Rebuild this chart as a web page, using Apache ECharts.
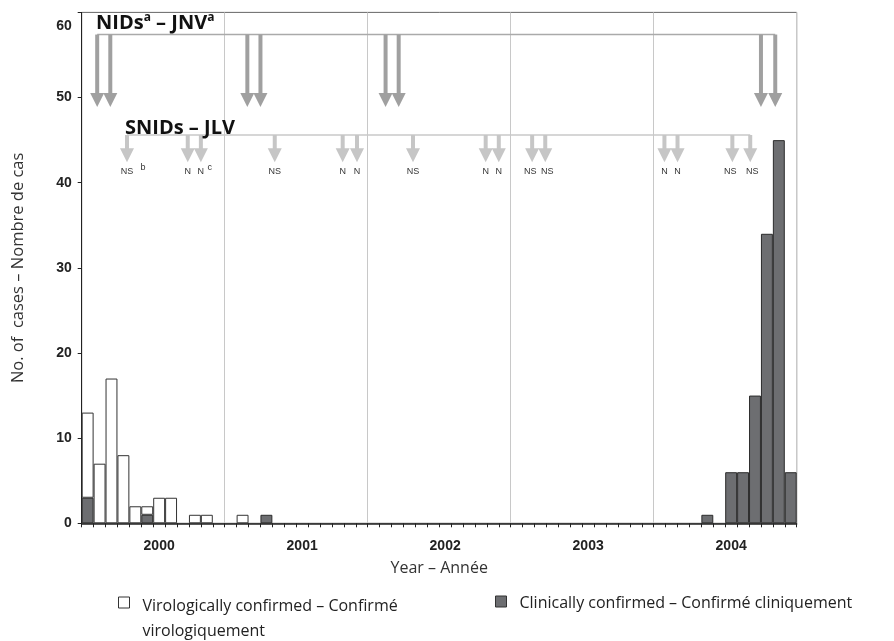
<!DOCTYPE html>
<html><head><meta charset="utf-8">
<script src="https://cdn.jsdelivr.net/npm/echarts@6/dist/echarts.min.js"></script>
<style>html,body{margin:0;padding:0;background:#fff}#c{width:894px;height:641px}</style>
</head><body><div id="c"></div>
<script>
// ---- data ----
const years = ['2000', '2001', '2002', '2003', '2004'];
const monthNames = ['Jan','Feb','Mar','Apr','May','Jun','Jul','Aug','Sep','Oct','Nov','Dec'];
const categories = [];
years.forEach(y => monthNames.forEach(m => categories.push(y + '-' + m)));
const seriesNames = ['Virologically confirmed – Confirmé virologiquement', 'Clinically confirmed – Confirmé cliniquement'];
// clinically confirmed cases per month (Jan 2000 .. Dec 2004)
const clinical = [
  3, null, null, null, null, 1, null, null, null, null, null, null,
  null, null, null, 1, null, null, null, null, null, null, null, null,
  null, null, null, null, null, null, null, null, null, null, null, null,
  null, null, null, null, null, null, null, null, null, null, null, null,
  null, null, null, null, 1, null, 6, 6, 15, 34, 45, 6
];
// virologically confirmed cases per month (stacked on clinical)
const virological = [
  10, 7, 17, 8, 2, 1, 3, 3, null, 1, 1, null,
  null, 1, null, null, null, null, null, null, null, null, null, null,
  null, null, null, null, null, null, null, null, null, null, null, null,
  null, null, null, null, null, null, null, null, null, null, null, null,
  null, null, null, null, null, null, null, null, null, null, null, null
];
// campaign dates in months since Jan 2000
const nidMonths = [1.3, 2.4, 13.9, 15.0, 25.5, 26.6, 57.0, 58.2];
const snidMonths = [3.8, 8.9, 10.0, 16.2, 21.9, 23.1, 27.8, 33.9, 35.0, 37.8, 38.9, 48.9, 50.0, 54.6, 56.1];
const snidLabels = ['NS','N','N','NS','N','N','NS','N','N','NS','NS','N','N','NS','NS'];
const snidNotes  = ['b','','c','','','','','','','','','','','',''];

// ---- chart ----
const chart = echarts.init(document.getElementById('c'));
const NID_LINE = 57.4, NID_TIP = 48.9, SNID_LINE = 45.6, SNID_TIP = 42.4;
const NUM_FONT = 'Liberation Sans';
const TXT_FONT = 'Open Sans';

function arrowGroup(x, top, tip, color, sw, hw, hh) {
  return [
    {type: 'rect', shape: {x: x - sw / 2, y: top, width: sw, height: tip - hh - top + 1}, style: {fill: color}},
    {type: 'polygon', shape: {points: [[x - hw, tip - hh], [x + hw, tip - hh], [x, tip]]}, style: {fill: color}}
  ];
}

const legendText = {fontSize: 16, fontFamily: TXT_FONT, color: '#222', lineHeight: 25};

const option = {
  animation: false,
  backgroundColor: '#fff',
  title: [
    {
      text: '{b|NIDs}{s|a}{b| – JNV}{s|a}', left: 96, top: 12, padding: 0,
      textStyle: {rich: {
        b: {fontSize: 20, fontWeight: 'bold', fontFamily: TXT_FONT, color: '#111', lineHeight: 22},
        s: {fontSize: 12, fontWeight: 'bold', fontFamily: TXT_FONT, color: '#111', lineHeight: 22, verticalAlign: 'top'}
      }}
    },
    {
      text: 'SNIDs – JLV', left: 125, top: 117, padding: 0,
      textStyle: {fontSize: 20, fontWeight: 'bold', fontFamily: TXT_FONT, color: '#111', lineHeight: 22}
    }
  ],
  legend: [
    {
      data: [{name: seriesNames[0], icon: 'rect', itemStyle: {color: '#fff', borderColor: '#333', borderWidth: 1}}],
      left: 118, top: 561, padding: 0, itemWidth: 11, itemHeight: 11, selectedMode: false,
      formatter: n => {
        const parts = n.split(' virologiquement');
        return '{sp| }\n{t|' + parts[0] + '}\n{t|virologiquement}';
      },
      textStyle: Object.assign({}, legendText, {
        rich: {
          sp: {fontSize: 2, lineHeight: 33},
          t: Object.assign({}, legendText, {padding: [0, 0, 0, 8]})
        }
      })
    },
    {
      data: [{name: seriesNames[1], icon: 'rect', itemStyle: {color: '#6d6e71', borderColor: '#333', borderWidth: 1}}],
      left: 495, top: 589, padding: 0, itemWidth: 11, itemHeight: 11, selectedMode: false,
      formatter: n => '{t|' + n + '}',
      textStyle: Object.assign({}, legendText, {
        rich: {t: Object.assign({}, legendText, {padding: [4, 0, 0, 8]})}
      })
    }
  ],
  grid: {left: 81.7, right: 97.3, top: 12.4, bottom: 117.7, show: true, borderColor: '#666', borderWidth: 1, containLabel: false},
  xAxis: [
    {
      type: 'category', data: categories, boundaryGap: true,
      name: 'Year – Année', nameLocation: 'middle', nameGap: 37,
      nameTextStyle: {fontSize: 16, fontFamily: TXT_FONT, color: '#333'},
      axisLine: {lineStyle: {color: '#222', width: 1.5}},
      axisTick: {show: true, interval: 0, length: 4, lineStyle: {color: '#222'}},
      axisLabel: {
        interval: (i) => i % 12 === 6,
        formatter: (v, i) => years[Math.floor(i / 12)],
        margin: 16, fontSize: 14, fontWeight: 'bold', fontFamily: NUM_FONT, color: '#222'
      },
      splitLine: {show: true, interval: (i) => i > 0 && i < 60 && i % 12 === 0, lineStyle: {color: '#c8c8c8', width: 1}}
    },
    {type: 'value', min: 0, max: 60, show: false}
  ],
  yAxis: {
    type: 'value', min: 0, max: 60, interval: 10,
    name: 'No. of  cases – Nombre de cas', nameLocation: 'middle', nameGap: 55,
    nameTextStyle: {fontSize: 16.5, fontFamily: TXT_FONT, color: '#333'},
    axisLine: {show: true, lineStyle: {color: '#222', width: 1}},
    axisTick: {show: true, length: 4, lineStyle: {color: '#222'}},
    splitLine: {show: false},
    axisLabel: {
      margin: 10, fontSize: 14, fontWeight: 'bold', fontFamily: NUM_FONT, color: '#222',
      formatter: v => v === 60 ? '{top|60}' : String(v),
      rich: {top: {padding: [28, 0, 0, 0], fontSize: 14, fontWeight: 'bold', fontFamily: NUM_FONT, color: '#222'}}
    }
  },
  series: [
    {
      name: seriesNames[1], type: 'bar', stack: 'cases', data: clinical,
      barWidth: '100%', barCategoryGap: 0,
      itemStyle: {color: '#6d6e71', borderColor: '#2b2b2b', borderWidth: 1}
    },
    {
      name: seriesNames[0], type: 'bar', stack: 'cases', data: virological,
      barWidth: '100%', barCategoryGap: 0,
      itemStyle: {color: '#fff', borderColor: '#333', borderWidth: 1}
    },
    {
      type: 'custom', xAxisIndex: 1, yAxisIndex: 0, silent: true, z: 4,
      data: [[Math.min(...nidMonths), Math.max(...nidMonths)]],
      renderItem(params, api) {
        const a = api.coord([api.value(0), NID_LINE]);
        const b = api.coord([api.value(1), NID_LINE]);
        return {type: 'line', shape: {x1: a[0], y1: a[1], x2: b[0], y2: b[1]}, style: {stroke: '#aaa', lineWidth: 1.5}};
      }
    },
    {
      type: 'custom', xAxisIndex: 1, yAxisIndex: 0, silent: true, z: 5,
      data: nidMonths.map(m => [m]),
      renderItem(params, api) {
        const x = api.coord([api.value(0), 0])[0];
        const top = api.coord([0, NID_LINE])[1];
        const tip = api.coord([0, NID_TIP])[1];
        return {type: 'group', children: arrowGroup(x, top, tip, '#a0a0a0', 4, 7, 14)};
      }
    },
    {
      type: 'custom', xAxisIndex: 1, yAxisIndex: 0, silent: true, z: 4,
      data: [[Math.min(...snidMonths), Math.max(...snidMonths)]],
      renderItem(params, api) {
        const a = api.coord([api.value(0), SNID_LINE]);
        const b = api.coord([api.value(1), SNID_LINE]);
        return {type: 'line', shape: {x1: a[0], y1: a[1], x2: b[0], y2: b[1]}, style: {stroke: '#c8c8c8', lineWidth: 1.5}};
      }
    },
    {
      type: 'custom', xAxisIndex: 1, yAxisIndex: 0, silent: true, z: 5,
      data: snidMonths.map(m => [m]),
      renderItem(params, api) {
        const i = params.dataIndex;
        const x = api.coord([api.value(0), 0])[0];
        const top = api.coord([0, SNID_LINE])[1];
        const tip = api.coord([0, SNID_TIP])[1];
        const children = arrowGroup(x, top, tip, '#c6c6c6', 4, 7, 14);
        // spread the labels of close arrow pairs a little apart
        let dx = 0;
        if (snidLabels[i] === 'NS') {
          if (i + 1 < snidMonths.length && snidMonths[i + 1] - snidMonths[i] < 2) dx = -2;
          else if (i > 0 && snidMonths[i] - snidMonths[i - 1] < 2) dx = 2;
        }
        children.push({type: 'text', style: {text: snidLabels[i], x: x + dx, y: tip + 9, align: 'center', verticalAlign: 'middle', fontSize: 9, fontFamily: NUM_FONT, fill: '#333'}});
        if (snidNotes[i]) {
          children.push({type: 'text', style: {text: snidNotes[i], x: x + (snidLabels[i].length === 2 ? 16 : 9), y: tip + 5, align: 'center', verticalAlign: 'middle', fontSize: 9, fontFamily: NUM_FONT, fill: '#333'}});
        }
        return {type: 'group', children};
      }
    }
  ]
};
chart.setOption(option);
</script>
</body></html>
